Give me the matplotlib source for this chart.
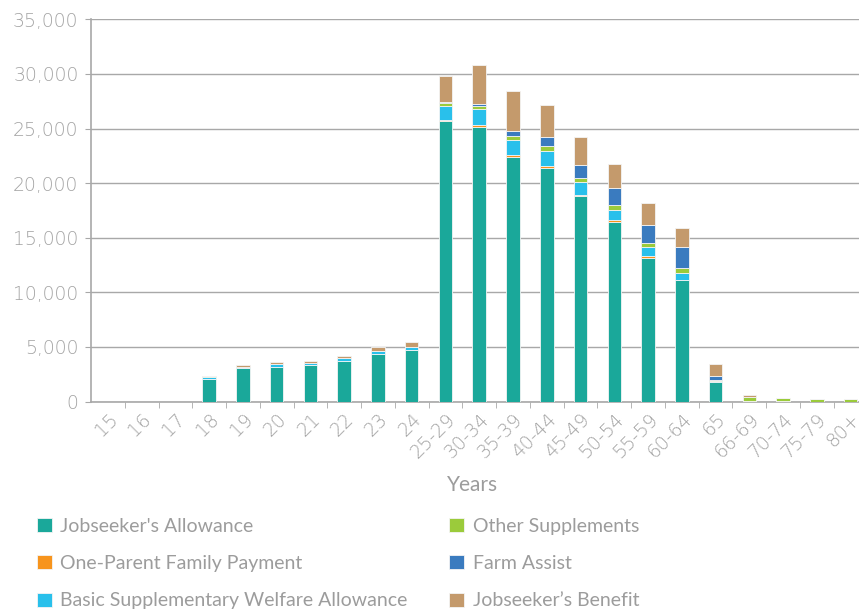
import matplotlib
matplotlib.use("Agg")
import matplotlib.pyplot as plt
import numpy as np

# age groups
ages = ['15', '16', '17', '18', '19', '20', '21', '22', '23', '24',
        '25-29', '30-34', '35-39', '40-44', '45-49', '50-54', '55-59', '60-64',
        '65', '66-69', '70-74', '75-79', '80+']

jobseekers_allowance = [0, 0, 0, 2030, 3100, 3190, 3310, 3740, 4350, 4690,
                        25700, 25150, 22400, 21400, 18800, 16450, 13170, 11130,
                        1750, 30, 20, 0, 0]
one_parent = [0, 0, 0, 0, 0, 0, 0, 0, 0, 0,
              100, 180, 150, 200, 150, 150, 180, 30,
              20, 0, 0, 0, 0]
basic_supp = [0, 0, 0, 200, 60, 280, 215, 250, 250, 270,
              1300, 1500, 1400, 1380, 1130, 920, 770, 610,
              110, 30, 0, 0, 0]
other_supp = [0, 0, 0, 100, 0, 0, 0, 0, 0, 0,
              200, 250, 350, 400, 370, 490, 370, 460,
              120, 380, 300, 210, 210]
farm_assist = [0, 0, 0, 0, 30, 0, 0, 0, 0, 0,
               150, 200, 520, 850, 1250, 1560, 1700, 1890,
               300, 20, 0, 0, 0]
jobseekers_benefit = [0, 0, 0, 20, 150, 120, 180, 180, 370, 460,
                      2400, 3500, 3580, 2900, 2530, 2200, 1960, 1740,
                      1180, 120, 0, 0, 0]

series = [
    ("Jobseeker's Allowance", jobseekers_allowance, '#1aa89a'),
    ("One-Parent Family Payment", one_parent, '#f7941d'),
    ("Basic Supplementary Welfare Allowance", basic_supp, '#29c0eb'),
    ("Other Supplements", other_supp, '#9bcb3b'),
    ("Farm Assist", farm_assist, '#3a7bbf'),
    ("Jobseeker\u2019s Benefit", jobseekers_benefit, '#c49a6c'),
]

plt.rcParams['font.family'] = ['Lato', 'DejaVu Sans']
txt = '#9c9c9c'
grid = '#a8a8a8'
tickfont = dict(family='DejaVu Sans', size=13.5, color='#a3a3a3',
                fontweight='light')

fig = plt.figure(figsize=(8.59, 6.14), dpi=100)
ax = fig.add_axes([0.106, 0.346, 0.894, 0.6225])

x = np.arange(len(ages))
bottom = np.zeros(len(ages))
handles = []
for name, vals, col in series:
    vals = np.array(vals, dtype=float)
    b = ax.bar(x, vals, width=0.4, bottom=bottom, color=col,
               edgecolor='#f4f4f4', linewidth=0.6, label=name, zorder=3)
    handles.append(b)
    bottom += vals

ax.set_xlim(-0.5, 22.25)
ax.set_ylim(0, 35000)
ax.set_yticks(range(0, 35001, 5000))
ax.set_yticklabels([f'{v:,}' for v in range(0, 35001, 5000)], **tickfont)
ax.yaxis.grid(True, color=grid, linewidth=1, zorder=0)
ax.tick_params(axis='y', length=4, color=grid, pad=5)

ax.set_xticks(x)
ax.set_xticklabels(ages, rotation=45, ha='right', rotation_mode='anchor',
                   **tickfont)
ax.tick_params(axis='x', which='major', length=0, pad=6)
ax.set_xticks(x[:-1] + 0.5, minor=True)
ax.tick_params(axis='x', which='minor', length=4, color=grid)

for s in ['top', 'right']:
    ax.spines[s].set_visible(False)
for s in ['left', 'bottom']:
    ax.spines[s].set_color(grid)
    ax.spines[s].set_linewidth(1.2)

fig.text(0.55, 0.21, 'Years', ha='center', va='center', fontsize=15,
         color=txt)

leg = fig.legend(handles=handles, loc='upper left', bbox_to_anchor=(0.043, 0.157),
                 ncol=2, frameon=False, fontsize=14, handlelength=0.75,
                 handleheight=0.75, handletextpad=0.45, columnspacing=2.15,
                 labelspacing=1.05, borderaxespad=0, borderpad=0)
for t in leg.get_texts():
    t.set_color(txt)

fig.savefig('out.png', dpi=100)
